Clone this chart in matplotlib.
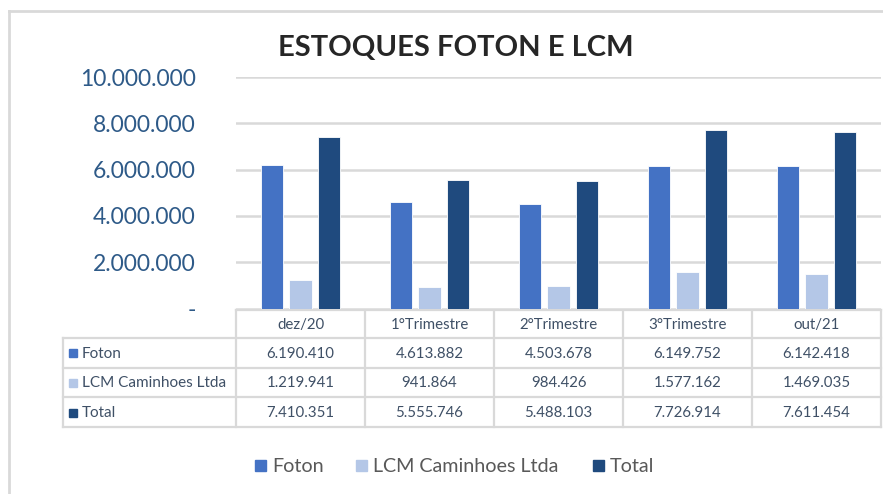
import matplotlib
matplotlib.use("Agg")
import matplotlib.pyplot as plt
from matplotlib.lines import Line2D
from matplotlib.patches import Rectangle

plt.rcParams['font.family'] = ['Lato', 'DejaVu Sans']

categories = ["dez/20", "1°Trimestre", "2°Trimestre", "3°Trimestre", "out/21"]
series_names = ["Foton", "LCM Caminhoes Ltda", "Total"]
foton = [6190410, 4613882, 4503678, 6149752, 6142418]
lcm = [1219941, 941864, 984426, 1577162, 1469035]
total = [7410351, 5555746, 5488103, 7726914, 7611454]
yticks = [0, 2000000, 4000000, 6000000, 8000000, 10000000]
colors = ["#4472C4", "#B4C7E7", "#1F4A7E"]

W, H = 883, 494
fig = plt.figure(figsize=(W / 100, H / 100), dpi=100)

def fx(px):
    return px / W

def fy(py):
    return 1 - py / H

# main chart axes
ax_left, ax_right, ax_top, ax_bot = 236, 881, 77, 308.5
ax = fig.add_axes([fx(ax_left), fy(ax_bot), fx(ax_right - ax_left), (ax_bot - ax_top) / H])
ax.set_xlim(-0.5, len(categories) - 0.5)
ax.set_ylim(0, 10000000)
offsets = [-0.222, 0.0, 0.222]
bw = 0.175
for s, (vals, c) in enumerate(zip([foton, lcm, total], colors)):
    xs = [i + offsets[s] for i in range(len(categories))]
    ax.bar(xs, vals, width=bw, color=c, edgecolor="white", linewidth=0.6, zorder=3)
ax.set_yticks(yticks)
ax.set_yticklabels(["-" if v == 0 else f"{v:,}".replace(",", ".") for v in yticks],
                   fontsize=16.5, color="#2E5A88")
ax.tick_params(axis='y', length=0, pad=29)
ax.set_xticks([])
ax.grid(axis='y', color="#D9D9D9", linewidth=1.8, zorder=0)
for sp in ax.spines.values():
    sp.set_visible(False)

# overlay axes in pixel coordinates for table, title, legend, border
ov = fig.add_axes([0, 0, 1, 1], zorder=-1)
ov.set_xlim(0, W)
ov.set_ylim(H, 0)
ov.axis('off')

lc = "#D9D9D9"
lw = 1.6
# outer border
ov.add_line(Line2D([9, 9], [11, H], color=lc, lw=2))
ov.add_line(Line2D([9, W], [11, 11], color=lc, lw=2))

# title
ov.text(456, 48, "ESTOQUES FOTON E LCM", ha='center', va='center', fontsize=21,
        fontweight='bold', color="#262626")

# table
col_x = [236 + 129 * i for i in range(len(categories) + 1)]
col_x[-1] = 881
row_y = [309.5, 338, 367.5, 397, 427]
label_left = 63
ov.add_line(Line2D([col_x[0], col_x[-1]], [row_y[0], row_y[0]], color=lc, lw=lw))
for y in row_y[1:]:
    ov.add_line(Line2D([label_left, col_x[-1]], [y, y], color=lc, lw=lw))
for x in col_x:
    ov.add_line(Line2D([x, x], [row_y[0], row_y[-1]], color=lc, lw=lw))
ov.add_line(Line2D([label_left, label_left], [row_y[1], row_y[-1]], color=lc, lw=lw))

tc = "#3F5066"
for i, cat in enumerate(categories):
    cx = (col_x[i] + col_x[i + 1]) / 2
    ov.text(cx, (row_y[0] + row_y[1]) / 2 + 1, cat, ha='center', va='center',
            fontsize=10.8, color=tc)
for r, (name, vals, c) in enumerate(zip(series_names, [foton, lcm, total], colors)):
    cy = (row_y[r + 1] + row_y[r + 2]) / 2 + 1
    ov.add_patch(Rectangle((69, cy - 4.5), 8, 8, color=c))
    ov.text(82, cy, name, ha='left', va='center', fontsize=11, color=tc)
    for i, v in enumerate(vals):
        cx = (col_x[i] + col_x[i + 1]) / 2
        ov.text(cx, cy, f"{v:,}".replace(",", "."), ha='center', va='center',
                fontsize=10.8, color=tc)

# legend
leg_y = 466
leg_items = [(255, series_names[0]), (356, series_names[1]), (593, series_names[2])]
for (lx, name), c in zip(leg_items, colors):
    ov.add_patch(Rectangle((lx, leg_y - 6), 11, 11, color=c))
    ov.text(lx + 17, leg_y, name, ha='left', va='center', fontsize=14.2, color="#595959")

fig.savefig("out.png", dpi=100)
